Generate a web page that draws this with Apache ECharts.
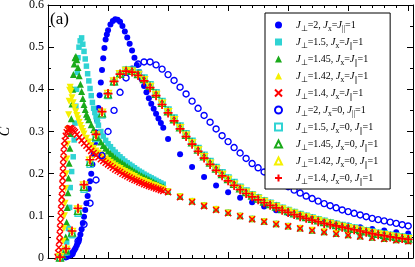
<!DOCTYPE html>
<html><head><meta charset="utf-8">
<script src="https://cdn.jsdelivr.net/npm/echarts@6/dist/echarts.min.js"></script>
<style>html,body{margin:0;padding:0;background:#fff}#c{width:415px;height:267px}</style>
</head><body><div id="c"></div>
<script>
// ---- data (x = temperature, C = specific heat) ----
const seriesNames = ['s1','s2','s3','s4','s5','s6','s7','s8','s9','s10'];
const legendLabels = [
 '{f|J}{s|⊥}{n|=2, }{i|J}{s|x}{n|=}{i|J}{s|||}{n|=1}',
 '{f|J}{s|⊥}{n|=1.5, }{i|J}{s|x}{n|=}{i|J}{s|||}{n|=1}',
 '{f|J}{s|⊥}{n|=1.45, }{i|J}{s|x}{n|=}{i|J}{s|||}{n|=1}',
 '{f|J}{s|⊥}{n|=1.42, }{i|J}{s|x}{n|=}{i|J}{s|||}{n|=1}',
 '{f|J}{s|⊥}{n|=1.4, }{i|J}{s|x}{n|=}{i|J}{s|||}{n|=1}',
 '{f|J}{s|⊥}{n|=2, }{i|J}{s|x}{n|=0, }{i|J}{s|||}{n|=1}',
 '{f|J}{s|⊥}{n|=1.5, }{i|J}{s|x}{n|=0, }{i|J}{s|||}{n|=1}',
 '{f|J}{s|⊥}{n|=1.45, }{i|J}{s|x}{n|=0, }{i|J}{s|||}{n|=1}',
 '{f|J}{s|⊥}{n|=1.42, }{i|J}{s|x}{n|=0, }{i|J}{s|||}{n|=1}',
 '{f|J}{s|⊥}{n|=1.4, }{i|J}{s|x}{n|=0, }{i|J}{s|||}{n|=1}'
];
const yTickLabels = ['0','0.1','0.2','0.3','0.4','0.5','0.6'];

// Jx = J|| = 1 : dense low-T part
const blueDense = [[0.14,0.002],[0.16,0.003],[0.18,0.006],[0.20,0.01],[0.21,0.014],[0.22,0.019],[0.23,0.024],[0.24,0.03],[0.25,0.037],[0.26,0.045],[0.27,0.056],[0.28,0.068],[0.29,0.083],[0.30,0.098],[0.31,0.114],[0.32,0.13],[0.33,0.147],[0.34,0.164],[0.35,0.182],[0.36,0.2],[0.37,0.222],[0.38,0.246],[0.39,0.272],[0.40,0.298],[0.41,0.326],[0.42,0.356],[0.43,0.386],[0.44,0.416],[0.45,0.446],[0.46,0.474],[0.47,0.498],[0.48,0.518],[0.49,0.53],[0.50,0.54],[0.52,0.554],[0.54,0.562],[0.56,0.566],[0.58,0.565],[0.60,0.56],[0.62,0.55],[0.64,0.537],[0.66,0.523],[0.68,0.508],[0.70,0.492],[0.72,0.475],[0.74,0.458],[0.76,0.441],[0.78,0.424],[0.80,0.408],[0.82,0.393],[0.84,0.379],[0.86,0.366],[0.88,0.354],[0.90,0.342],[0.92,0.331],[0.94,0.32],[0.96,0.309]];
const cyanDense = [[0.15,0.012],[0.156,0.038],[0.17,0.07],[0.18,0.12],[0.185,0.167],[0.197,0.205],[0.21,0.24],[0.218,0.28],[0.225,0.32],[0.232,0.36],[0.238,0.4],[0.244,0.44],[0.25,0.475],[0.258,0.5],[0.268,0.515],[0.28,0.522],[0.29,0.507],[0.30,0.49],[0.31,0.472],[0.32,0.455],[0.33,0.437],[0.34,0.42],[0.35,0.402],[0.36,0.385],[0.37,0.369],[0.38,0.355],[0.39,0.345],[0.40,0.335],[0.41,0.325],[0.42,0.315],[0.44,0.3],[0.46,0.289],[0.48,0.279],[0.50,0.271],[0.52,0.264],[0.54,0.257],[0.56,0.251],[0.58,0.245],[0.60,0.24],[0.62,0.235],[0.64,0.23],[0.66,0.226],[0.68,0.222],[0.70,0.218],[0.72,0.214],[0.74,0.21],[0.76,0.206],[0.78,0.203],[0.80,0.199],[0.82,0.196],[0.84,0.193],[0.86,0.19],[0.88,0.187],[0.90,0.184],[0.92,0.181],[0.94,0.178],[0.96,0.175]];
const greenDense = [[0.13,0.004],[0.14,0.02],[0.148,0.05],[0.155,0.085],[0.16,0.12],[0.166,0.155],[0.17,0.19],[0.176,0.225],[0.182,0.26],[0.188,0.295],[0.194,0.33],[0.2,0.365],[0.206,0.4],[0.212,0.435],[0.218,0.46],[0.225,0.475],[0.232,0.478],[0.24,0.47],[0.25,0.452],[0.26,0.432],[0.27,0.412],[0.28,0.395],[0.29,0.378],[0.30,0.364],[0.31,0.352],[0.32,0.341],[0.33,0.335],[0.34,0.328],[0.36,0.316],[0.38,0.305],[0.40,0.294],[0.42,0.284],[0.44,0.275],[0.46,0.267],[0.48,0.26],[0.50,0.254],[0.52,0.248],[0.54,0.243],[0.56,0.238],[0.58,0.233],[0.60,0.229],[0.62,0.225],[0.64,0.221],[0.66,0.217],[0.68,0.213],[0.70,0.209],[0.72,0.205],[0.74,0.202],[0.76,0.198],[0.78,0.195],[0.80,0.192],[0.82,0.189],[0.84,0.186],[0.86,0.183],[0.88,0.18],[0.90,0.177],[0.92,0.174],[0.94,0.171],[0.96,0.169]];
const yellowDense = [[0.115,0.004],[0.12,0.015],[0.126,0.04],[0.132,0.07],[0.137,0.1],[0.142,0.13],[0.147,0.165],[0.152,0.2],[0.157,0.235],[0.162,0.27],[0.167,0.305],[0.172,0.34],[0.176,0.372],[0.18,0.398],[0.185,0.405],[0.19,0.395],[0.20,0.38],[0.21,0.368],[0.22,0.357],[0.23,0.347],[0.24,0.338],[0.25,0.33],[0.26,0.322],[0.27,0.314],[0.28,0.307],[0.29,0.3],[0.30,0.294],[0.32,0.284],[0.34,0.275],[0.36,0.267],[0.38,0.26],[0.40,0.254],[0.42,0.249],[0.44,0.244],[0.46,0.239],[0.48,0.235],[0.50,0.231],[0.52,0.227],[0.54,0.223],[0.56,0.219],[0.58,0.215],[0.60,0.212],[0.62,0.208],[0.64,0.205],[0.66,0.202],[0.68,0.199],[0.70,0.196],[0.72,0.193],[0.74,0.19],[0.76,0.187],[0.78,0.184],[0.80,0.182],[0.82,0.179],[0.84,0.177],[0.86,0.174],[0.88,0.172],[0.90,0.17],[0.92,0.167],[0.94,0.165],[0.96,0.163]];
const redDense = [[0.08,0.003],[0.085,0.012],[0.09,0.025],[0.095,0.04],[0.098,0.055],[0.1,0.07],[0.103,0.085],[0.106,0.1],[0.109,0.115],[0.112,0.13],[0.115,0.145],[0.118,0.16],[0.12,0.175],[0.122,0.19],[0.124,0.205],[0.126,0.22],[0.128,0.235],[0.13,0.25],[0.134,0.265],[0.14,0.278],[0.148,0.29],[0.156,0.298],[0.165,0.304],[0.175,0.307],[0.185,0.308],[0.195,0.307],[0.205,0.304],[0.215,0.301],[0.225,0.298],[0.24,0.293],[0.26,0.286],[0.28,0.279],[0.30,0.272],[0.32,0.266],[0.34,0.26],[0.36,0.254],[0.38,0.249],[0.40,0.244],[0.42,0.239],[0.44,0.234],[0.46,0.23],[0.48,0.226],[0.50,0.222],[0.52,0.218],[0.54,0.214],[0.56,0.21],[0.58,0.207],[0.60,0.204],[0.62,0.2],[0.64,0.197],[0.66,0.194],[0.68,0.191],[0.70,0.188],[0.72,0.185],[0.74,0.183],[0.76,0.18],[0.78,0.178],[0.80,0.175],[0.82,0.173],[0.84,0.171],[0.86,0.169],[0.88,0.167],[0.90,0.165],[0.92,0.163],[0.94,0.161],[0.96,0.159]];

// Jx = J|| = 1 : sparse high-T part
const tSparse = [1.0,1.1,1.2,1.3,1.4,1.5,1.6,1.7,1.8,1.9,2.0,2.1,2.2,2.3,2.4,2.5,2.6,2.7,2.8,2.9,3.0];
const blueSparseC = [0.282,0.246,0.216,0.192,0.172,0.156,0.143,0.132,0.122,0.113,0.106,0.099,0.093,0.087,0.082,0.077,0.073,0.069,0.065,0.061,0.058];
const cyanSparseC = [0.159,0.147,0.136,0.126,0.117,0.109,0.101,0.094,0.088,0.082,0.077,0.072,0.067,0.063,0.059,0.056,0.053,0.05,0.047,0.044,0.042];
const greenSparseC = [0.158,0.146,0.135,0.125,0.116,0.108,0.1,0.093,0.087,0.081,0.076,0.071,0.066,0.062,0.058,0.055,0.052,0.049,0.046,0.043,0.041];
const yellowSparseC = [0.157,0.145,0.134,0.124,0.115,0.107,0.099,0.092,0.086,0.08,0.075,0.07,0.066,0.062,0.058,0.055,0.052,0.049,0.046,0.043,0.041];
const redSparseC = [0.156,0.144,0.133,0.123,0.114,0.106,0.099,0.092,0.086,0.08,0.075,0.07,0.065,0.061,0.057,0.054,0.051,0.048,0.045,0.042,0.04];

// Jx = 0 series
const tJx0 = [0.10,0.15,0.20,0.25,0.30,0.35,0.40,0.45,0.50,0.55,0.60,0.65,0.70,0.75,0.80,0.85,0.90,0.95,1.00,1.05,1.10,1.15,1.20,1.25,1.30,1.35,1.40,1.45,1.50,1.55,1.60,1.65,1.70,1.75,1.80,1.85,1.90,1.95,2.00,2.05,2.10,2.15,2.20,2.25,2.30,2.35,2.40,2.45,2.50,2.55,2.60,2.65,2.70,2.75,2.80,2.85,2.90,2.95,3.00];
const blueOpenC = [null,0.003,0.01,0.04,0.08,0.13,0.185,0.243,0.3,0.35,0.393,0.427,0.448,0.46,0.465,0.465,0.458,0.448,0.435,0.421,0.405,0.389,0.372,0.355,0.338,0.322,0.306,0.29,0.276,0.262,0.249,0.236,0.224,0.214,0.204,0.194,0.185,0.177,0.169,0.161,0.154,0.147,0.141,0.135,0.129,0.124,0.119,0.114,0.11,0.106,0.102,0.098,0.094,0.091,0.088,0.085,0.082,0.079,0.076];
const cyanOpenC = [0.001,0.015,0.055,0.106,0.163,0.222,0.283,0.339,0.385,0.417,0.437,0.446,0.446,0.439,0.427,0.411,0.392,0.371,0.351,0.332,0.313,0.295,0.277,0.26,0.244,0.229,0.215,0.202,0.19,0.179,0.168,0.159,0.15,0.143,0.136,0.13,0.124,0.118,0.113,0.108,0.103,0.099,0.095,0.091,0.087,0.084,0.08,0.077,0.074,0.071,0.068,0.065,0.062,0.059,0.057,0.054,0.052,0.05,0.048];
const greenOpenC = [0.001,0.018,0.06,0.112,0.169,0.228,0.288,0.343,0.388,0.419,0.437,0.445,0.444,0.436,0.424,0.408,0.389,0.368,0.348,0.329,0.31,0.292,0.274,0.257,0.241,0.226,0.212,0.199,0.187,0.176,0.165,0.156,0.148,0.141,0.134,0.128,0.122,0.116,0.111,0.106,0.101,0.097,0.093,0.089,0.085,0.082,0.078,0.075,0.072,0.069,0.066,0.063,0.06,0.057,0.055,0.052,0.05,0.048,0.046];
const yellowOpenC = [0.002,0.02,0.062,0.115,0.172,0.231,0.291,0.345,0.389,0.419,0.436,0.444,0.442,0.434,0.422,0.406,0.387,0.366,0.346,0.327,0.308,0.29,0.272,0.255,0.239,0.224,0.21,0.197,0.185,0.174,0.164,0.155,0.147,0.14,0.133,0.127,0.121,0.115,0.11,0.105,0.1,0.096,0.092,0.088,0.084,0.081,0.077,0.074,0.071,0.068,0.065,0.062,0.059,0.056,0.054,0.051,0.049,0.047,0.045];
const plusC = [0.002,0.022,0.064,0.118,0.174,0.233,0.293,0.347,0.39,0.419,0.436,0.443,0.441,0.433,0.42,0.404,0.385,0.364,0.344,0.325,0.306,0.288,0.27,0.253,0.237,0.222,0.208,0.195,0.183,0.172,0.162,0.153,0.145,0.138,0.131,0.125,0.119,0.113,0.108,0.103,0.098,0.094,0.09,0.086,0.082,0.079,0.076,0.073,0.07,0.067,0.064,0.061,0.058,0.055,0.053,0.05,0.048,0.046,0.044];

// ---- build ----
const pairs = (xs, ys) => xs.map((x, i) => [x, ys[i]]).filter(p => p[1] !== null);
const BLUE = '#0000ff', CYAN = '#2fd3d3', GREEN = '#1aaa1a', YELLOW = '#f5f000', RED = '#ff0000';
const CLEAR = 'rgba(255,255,255,0)';
const XSYM = 'path://M0,0L10,10M10,0L0,10';
const PSYM = 'path://M5,0L5,10M0,5L10,5';

function mk(i, data, symbol, size, fill, stroke, lw, rot) {
  return {
    type: 'scatter', name: seriesNames[i], data: data,
    symbol: symbol, symbolSize: size, symbolRotate: rot || 0,
    itemStyle: { color: fill, borderColor: stroke || fill, borderWidth: lw || 0, opacity: 1 },
    silent: true, animation: false, z: 2 + i * 0.01
  };
}
const series = [
  mk(0, blueDense.concat(pairs(tSparse, blueSparseC)), 'circle', 6, BLUE),
  mk(1, cyanDense.concat(pairs(tSparse, cyanSparseC)), 'rect', 5.5, CYAN),
  mk(2, greenDense.concat(pairs(tSparse, greenSparseC)), 'triangle', 7, GREEN),
  mk(3, yellowDense.concat(pairs(tSparse, yellowSparseC)), 'triangle', 7, YELLOW, YELLOW, 0, 180),
  mk(4, redDense.concat(pairs(tSparse, redSparseC)), XSYM, 6, CLEAR, RED, 1.5),
  mk(5, pairs(tJx0, blueOpenC), 'circle', 6, CLEAR, BLUE, 1.4),
  mk(6, pairs(tJx0, cyanOpenC), 'rect', 6, CLEAR, CYAN, 1.4),
  mk(7, pairs(tJx0, greenOpenC), 'triangle', 7, CLEAR, GREEN, 1.3),
  mk(8, pairs(tJx0, yellowOpenC), 'triangle', 7, CLEAR, YELLOW, 1.3, 180),
  mk(9, pairs(tJx0, plusC), PSYM, 9, CLEAR, RED, 1.7)
];

const FONT = 'Liberation Serif';
const black = { color: '#000', width: 1 };
function xAx(pos, interval, len, line) {
  return { type: 'value', position: pos, min: 0, max: 3.04, interval: interval,
    axisLine: { show: line, onZero: false, lineStyle: black },
    axisTick: { show: true, inside: true, length: len, lineStyle: black },
    axisLabel: { show: false }, splitLine: { show: false } };
}
function yAx(pos, labels) {
  return { type: 'value', position: pos, min: 0, max: 0.6, interval: 0.1,
    axisLine: { show: true, onZero: false, lineStyle: black },
    axisTick: { show: true, inside: true, length: 6, lineStyle: black },
    minorTick: { show: true, splitNumber: 2, length: 3, lineStyle: black },
    axisLabel: { show: labels, margin: 4, color: '#000', fontFamily: FONT, fontSize: 12,
      formatter: (v) => yTickLabels[Math.round(v * 10)] },
    splitLine: { show: false },
    name: labels ? 'C' : '', nameLocation: 'middle', nameGap: 36, nameRotate: 90,
    nameTextStyle: { fontFamily: FONT, fontStyle: 'italic', fontSize: 14, color: '#000' } };
}

const chart = echarts.init(document.getElementById('c'), null, { renderer: 'canvas' });
chart.setOption({
  animation: false,
  backgroundColor: '#fff',
  textStyle: { fontFamily: FONT },
  grid: { left: 48, right: 2, top: 5, bottom: 9, containLabel: false, outerBoundsMode: 'none' },
  xAxis: [xAx('bottom', 0.5, 6, true), xAx('top', 0.5, 6, true), xAx('bottom', 0.1, 3, false), xAx('top', 0.1, 3, false)],
  yAxis: [yAx('left', true), yAx('right', false)],
  legend: {
    orient: 'vertical', left: 265, top: 13, itemWidth: 7, itemHeight: 7, itemGap: 1,
    padding: [4, 12, 3, 9], backgroundColor: '#fff', borderColor: '#000', borderWidth: 1, borderRadius: 0,
    selectedMode: false, data: seriesNames,
    formatter: (name) => legendLabels[seriesNames.indexOf(name)],
    textStyle: { fontFamily: FONT, fontSize: 10, color: '#000', lineHeight: 16,
      rich: {
        f: { fontFamily: FONT, fontSize: 10.5, lineHeight: 16, fontStyle: 'italic', color: '#000', padding: [0, 0, 0, 9] },
        n: { fontFamily: FONT, fontSize: 10, lineHeight: 16, color: '#000' },
        i: { fontFamily: FONT, fontSize: 10.5, lineHeight: 16, fontStyle: 'italic', color: '#000' },
        s: { fontFamily: FONT, fontSize: 7.5, lineHeight: 8, verticalAlign: 'bottom', color: '#000' }
      } }
  },
  graphic: [{ type: 'text', left: 50, top: 11, z: 10,
    style: { text: '(a)', font: '17px "Liberation Serif"', fill: '#000' } }],
  series: series
});
</script></body></html>
